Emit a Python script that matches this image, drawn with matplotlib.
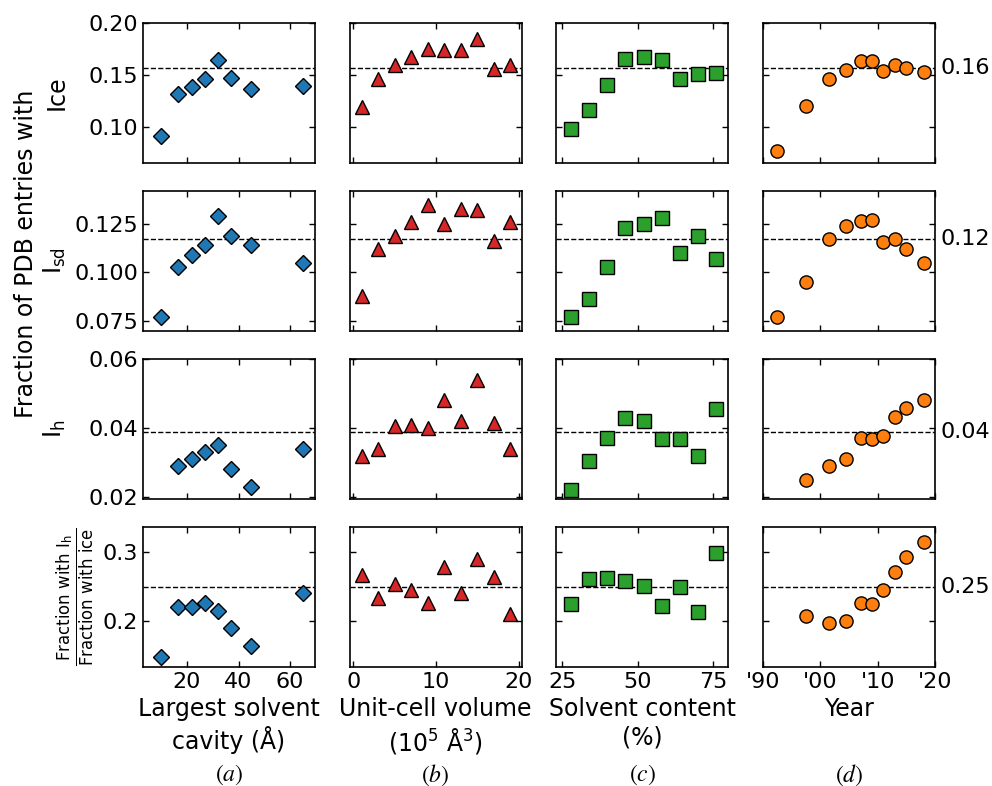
import numpy as np
import matplotlib
matplotlib.use('Agg')
import matplotlib.pyplot as plt

nan = np.nan

# largest solvent cavity (A)
cavity = [10, 16.5, 22, 27, 32, 37, 45, 65]
cav_ice = [0.091, 0.132, 0.138, 0.146, 0.164, 0.147, 0.136, 0.139]
cav_isd = [0.077, 0.103, 0.109, 0.114, 0.129, 0.119, 0.114, 0.105]
cav_ih = [0.0135, 0.029, 0.031, 0.033, 0.035, 0.028, 0.023, 0.034]
cav_ratio = [0.148, 0.220, 0.220, 0.226, 0.214, 0.190, 0.164, 0.241]

# unit-cell volume (10^5 A^3)
volume = [1, 3, 5, 7, 9, 11, 13, 15, 17, 19]
vol_ice = [0.1195, 0.146, 0.160, 0.167, 0.175, 0.174, 0.174, 0.185, 0.156, 0.160]
vol_isd = [0.088, 0.112, 0.119, 0.126, 0.135, 0.125, 0.1325, 0.132, 0.116, 0.126]
vol_ih = [0.032, 0.034, 0.0405, 0.041, 0.040, 0.048, 0.042, 0.054, 0.0415, 0.034]
vol_ratio = [0.266, 0.233, 0.253, 0.244, 0.226, 0.278, 0.241, 0.290, 0.264, 0.210]

# solvent content (%)
solvent = [28, 34, 40, 46, 52, 58, 64, 70, 76]
sol_ice = [0.098, 0.116, 0.140, 0.165, 0.167, 0.164, 0.146, 0.151, 0.152]
sol_isd = [0.077, 0.086, 0.103, 0.123, 0.125, 0.128, 0.110, 0.119, 0.107]
sol_ih = [0.022, 0.0305, 0.037, 0.043, 0.042, 0.0367, 0.0367, 0.032, 0.0455]
sol_ratio = [0.2245, 0.261, 0.2625, 0.258, 0.2505, 0.222, 0.2486, 0.2126, 0.2986]

# deposition year
year = [1992.5, 1997.5, 2001.5, 2004.5, 2007, 2009, 2011, 2013, 2015, 2018]
yr_ice = [0.077, 0.120, 0.146, 0.155, 0.163, 0.1635, 0.154, 0.160, 0.157, 0.153]
yr_isd = [0.077, 0.095, 0.117, 0.124, 0.1265, 0.127, 0.1156, 0.117, 0.112, 0.1046]
yr_ih = [nan, 0.025, 0.029, 0.031, 0.037, 0.0368, 0.0377, 0.0433, 0.0459, 0.0481]
yr_ratio = [nan, 0.207, 0.197, 0.200, 0.2255, 0.224, 0.244, 0.270, 0.292, 0.314]

# overall fraction (dashed line) per row
means = [0.1564, 0.1171, 0.0389, 0.2486]

year_ticks = [1990, 2000, 2010, 2020]
year_ticklabels = ["'90", "'00", "'10", "'20"]

row_labels = ['Ice', r'I$_\mathregular{sd}$', r'I$_\mathregular{h}$',
              r'$\frac{\mathregular{Fraction\ with\ I_h}}{\mathregular{Fraction\ with\ ice}}$']
row_ylims = [(0.065, 0.20), (0.0697, 0.142), (0.0194, 0.058), (0.1336, 0.3356)]
row_yticks = [[0.10, 0.15, 0.20], [0.075, 0.100, 0.125], [0.02, 0.04, 0.06], [0.2, 0.3]]

cols = [
    dict(x=cavity, ys=[cav_ice, cav_isd, cav_ih, cav_ratio], marker='D', ms=8.3, color='#1f77b4',
         xlim=(3, 69.6), xticks=[20, 40, 60], xlabel='Largest solvent\ncavity (Å)', tag='$(a)$'),
    dict(x=volume, ys=[vol_ice, vol_isd, vol_ih, vol_ratio], marker='^', ms=10.5, color='#d62728',
         xlim=(-0.45, 20.35), xticks=[0, 10, 20], xlabel='Unit-cell volume\n(10$^5$ Å$^3$)', tag='$(b)$'),
    dict(x=solvent, ys=[sol_ice, sol_isd, sol_ih, sol_ratio], marker='s', ms=10, color='#2ca02c',
         xlim=(23.1, 80.1), xticks=[25, 50, 75], xlabel='Solvent content\n(%)', tag='$(c)$'),
    dict(x=year, ys=[yr_ice, yr_isd, yr_ih, yr_ratio], marker='o', ms=9.5, color='#ff7f0e',
         xlim=(1990, 2020), xticks=year_ticks, xlabel='Year', tag='$(d)$'),
]

fig, axes = plt.subplots(4, 4, figsize=(9.92, 7.86), dpi=100)
plt.subplots_adjust(left=0.1442, right=0.9425, top=0.9707, bottom=0.1514, wspace=0.203, hspace=0.2)

for j, c in enumerate(cols):
    for i in range(4):
        ax = axes[i, j]
        ax.axhline(means[i], color='k', ls='--', lw=1, zorder=1)
        ax.plot(c['x'], c['ys'][i], ls='none', marker=c['marker'], ms=c['ms'],
                mfc=c['color'], mec='k', mew=1, zorder=3)
        ax.set_xlim(c['xlim'])
        ylim = row_ylims[i]
        if i == 2 and j == 0:
            ylim = (0.0194, 0.060)
        ax.set_ylim(ylim)
        ax.set_xticks(c['xticks'])
        if j == 3:
            ax.set_xticklabels(year_ticklabels)
        ax.set_yticks(row_yticks[i])
        ax.tick_params(direction='in', top=True, right=True, length=4.5, width=1,
                       labelsize=16, labelleft=(j == 0), labelbottom=(i == 3))
        for sp in ax.spines.values():
            sp.set_linewidth(1.2)
        if j == 0:
            ax.set_ylabel(row_labels[i], fontsize=17)
            if i < 3:
                ax.yaxis.set_label_coords(-0.436, 0.5)
            else:
                ax.yaxis.set_label_coords(-0.267, 0.5)
        if j == 3:
            ax.annotate(f'{means[i]:.2f}', xy=(1, means[i]), xycoords=ax.get_yaxis_transform(),
                        xytext=(4, 0), textcoords='offset points', ha='left', va='center', fontsize=16)
        if i == 3:
            ax.set_xlabel(c['xlabel'], fontsize=17)
            pos = ax.get_position()
            fig.text((pos.x0 + pos.x1) / 2, 0.014, c['tag'], ha='center', va='center', fontsize=17,
                     math_fontfamily='stix')

fig.text(26 / 992, 1 - 254 / 786, 'Fraction of PDB entries with', rotation=90,
         ha='center', va='center', fontsize=17)

plt.savefig('out.png', dpi=100)
